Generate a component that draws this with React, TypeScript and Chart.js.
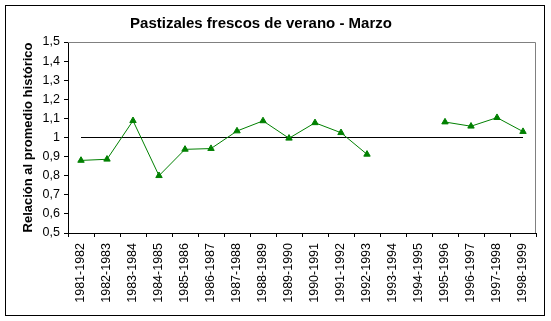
import React, { useEffect, useRef } from "react";
import { Chart, registerables } from "chart.js";

Chart.register(...registerables);

const categories = [
  "1981-1982", "1982-1983", "1983-1984", "1984-1985", "1985-1986", "1986-1987",
  "1987-1988", "1988-1989", "1989-1990", "1990-1991", "1991-1992", "1992-1993",
  "1993-1994", "1994-1995", "1995-1996", "1996-1997", "1997-1998", "1998-1999",
];

const relationValues: (number | null)[] = [
  0.88, 0.886, 1.088, 0.8, 0.938, 0.942,
  1.034, 1.087, 0.996, 1.077, 1.025, 0.912,
  null, null, 1.081, 1.059, 1.104, 1.031,
];

const averageValues = [1, 1, 1, 1, 1, 1, 1, 1, 1, 1, 1, 1, 1, 1, 1, 1, 1, 1];

const chartTitle = "Pastizales frescos de verano - Marzo";
const yAxisTitle = "Relación al promedio histórico";
const yMin = 0.5;
const yMax = 1.5;
const yStep = 0.1;

const FONT = "'Liberation Sans', Arial, sans-serif";

const framePlugin = {
  id: "frame",
  afterDraw(chart: any) {
    const { ctx, chartArea } = chart;
    ctx.save();
    ctx.lineWidth = 1;
    ctx.strokeStyle = "#808080";
    ctx.beginPath();
    ctx.moveTo(Math.round(chartArea.left), Math.round(chartArea.top) + 0.5);
    ctx.lineTo(Math.round(chartArea.right) - 0.5, Math.round(chartArea.top) + 0.5);
    ctx.lineTo(Math.round(chartArea.right) - 0.5, Math.round(chartArea.bottom));
    ctx.stroke();
    ctx.strokeStyle = "#000000";
    ctx.strokeRect(5.5, 5.5, 539, 310);
    ctx.restore();
  },
};

export default function App() {
  const canvasRef = useRef<HTMLCanvasElement | null>(null);

  useEffect(() => {
    if (!canvasRef.current) return;
    const chart = new Chart(canvasRef.current, {
      type: "line",
      data: {
        labels: categories,
        datasets: [
          {
            label: "Relación",
            data: relationValues,
            borderColor: "#008000",
            backgroundColor: "#008000",
            borderWidth: 1,
            pointStyle: "triangle",
            pointRadius: 3.7,
            pointBorderWidth: 1,
            pointBorderColor: "#008000",
            pointBackgroundColor: "#008000",
            spanGaps: false,
            tension: 0,
          },
          {
            label: "Promedio",
            data: averageValues,
            borderColor: "#000000",
            borderWidth: 1,
            pointRadius: 0,
            tension: 0,
          },
        ],
      },
      options: {
        responsive: false,
        animation: false,
        devicePixelRatio: 1,
        layout: { padding: { left: -14, right: 15, top: 0, bottom: 0 } },
        plugins: {
          legend: { display: false },
          tooltip: { enabled: false },
          title: {
            display: true,
            text: chartTitle,
            color: "#000000",
            font: { family: FONT, size: 15, weight: "bold", lineHeight: 1.2 },
            padding: { top: 14.5, bottom: 9.5 },
          },
        },
        scales: {
          x: {
            type: "category",
            offset: true,
            grid: {
              display: true,
              offset: true,
              drawOnChartArea: false,
              drawTicks: true,
              tickLength: 4,
              color: "#000000",
            },
            border: { display: true, color: "#000000", width: 1 },
            ticks: {
              color: "#000000",
              font: { family: FONT, size: 12.5 },
              maxRotation: 90,
              minRotation: 90,
              padding: 6,
              autoSkip: false,
            },
            afterFit(scale: any) {
              scale.height = 88;
            },
          },
          y: {
            min: yMin,
            max: yMax,
            grid: {
              display: true,
              drawOnChartArea: false,
              drawTicks: true,
              tickLength: 4,
              color: "#000000",
            },
            border: { display: true, color: "#000000", width: 1 },
            ticks: {
              stepSize: yStep,
              color: "#000000",
              font: { family: FONT, size: 12.5 },
              padding: 4,
              callback: (v: any) => {
                const n = Math.round(Number(v) * 10) / 10;
                return Number.isInteger(n) ? String(n) : n.toFixed(1).replace(".", ",");
              },
            },
            title: {
              display: true,
              text: yAxisTitle,
              color: "#000000",
              font: { family: FONT, size: 13, weight: "bold", lineHeight: 1.2 },
              padding: { top: 34.7, bottom: 0 },
            },
            afterFit(scale: any) {
              scale.width = 82;
            },
          },
        },
      },
      plugins: [framePlugin],
    } as any);
    return () => chart.destroy();
  }, []);

  return (
    <div style={{ position: "absolute", left: 0, top: 0, width: 551, height: 321, background: "#ffffff" }}>
      <canvas ref={canvasRef} width={551} height={321} />
    </div>
  );
}
